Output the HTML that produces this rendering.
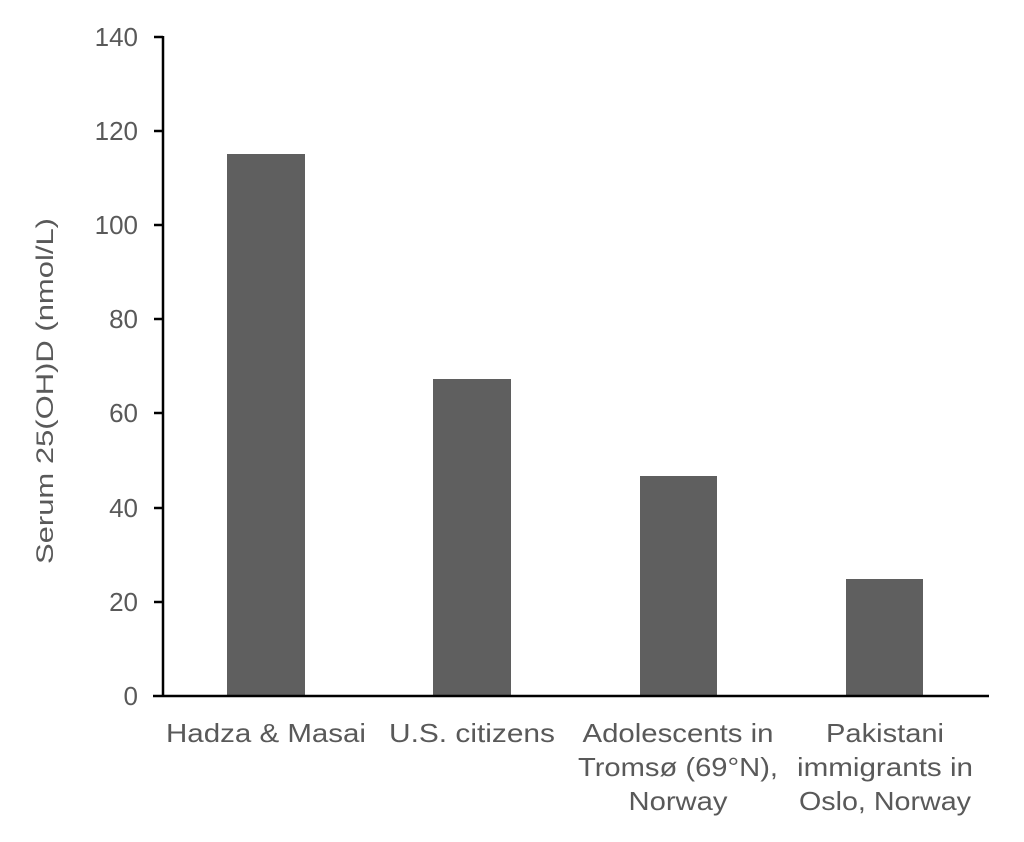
<!DOCTYPE html>
<html><head><style>html,body{margin:0;padding:0;background:#fff;}</style></head>
<body>
<svg width="1024" height="837" viewBox="0 0 1024 837" xmlns="http://www.w3.org/2000/svg" font-family="Liberation Sans, sans-serif" fill="#595959">
<rect width="1024" height="837" fill="#fff"/>
<g fill="#5f5f5f">
<rect x="227" y="154" width="78" height="542"/>
<rect x="433" y="379" width="78" height="317"/>
<rect x="640" y="476" width="77" height="220"/>
<rect x="846" y="579" width="77" height="117"/>
</g>
<g stroke="#000" stroke-width="2.5" fill="none">
<line x1="163" y1="36" x2="163" y2="697"/>
<line x1="153" y1="696" x2="989" y2="696"/>
<line x1="154" y1="37" x2="163" y2="37"/>
<line x1="154" y1="131" x2="163" y2="131"/>
<line x1="154" y1="225" x2="163" y2="225"/>
<line x1="154" y1="319" x2="163" y2="319"/>
<line x1="154" y1="413" x2="163" y2="413"/>
<line x1="154" y1="508" x2="163" y2="508"/>
<line x1="154" y1="602" x2="163" y2="602"/>
</g>
<g font-size="26" text-anchor="end">
<text x="138" y="46">140</text>
<text x="138" y="140">120</text>
<text x="138" y="234">100</text>
<text x="138" y="328">80</text>
<text x="138" y="422">60</text>
<text x="138" y="517">40</text>
<text x="138" y="611">20</text>
<text x="138" y="705">0</text>
</g>
<text transform="translate(53,391) rotate(-90)" font-size="24" text-anchor="middle" textLength="346" lengthAdjust="spacingAndGlyphs">Serum 25(OH)D (nmol/L)</text>
<g font-size="26" text-anchor="middle">
<text x="266" y="742" textLength="200" lengthAdjust="spacingAndGlyphs">Hadza &amp; Masai</text>
<text x="472" y="742" textLength="166" lengthAdjust="spacingAndGlyphs">U.S. citizens</text>
<text x="678" y="742" textLength="191" lengthAdjust="spacingAndGlyphs">Adolescents in</text>
<text x="678" y="776" textLength="200" lengthAdjust="spacingAndGlyphs">Tromsø (69°N),</text>
<text x="678" y="810" textLength="99" lengthAdjust="spacingAndGlyphs">Norway</text>
<text x="885" y="742" textLength="118" lengthAdjust="spacingAndGlyphs">Pakistani</text>
<text x="885" y="776" textLength="176" lengthAdjust="spacingAndGlyphs">immigrants in</text>
<text x="885" y="810" textLength="172" lengthAdjust="spacingAndGlyphs">Oslo, Norway</text>
</g>
</svg>
</body></html>
